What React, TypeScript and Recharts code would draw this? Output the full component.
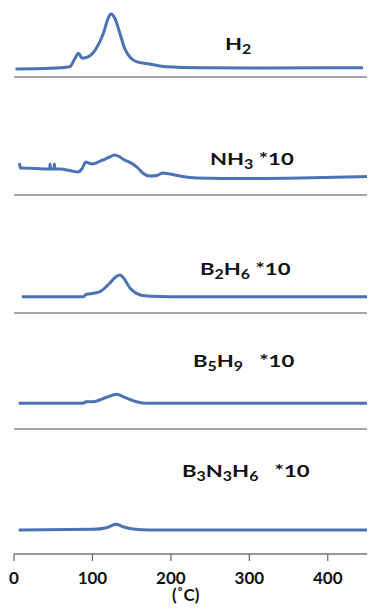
import { LineChart, Line, XAxis, YAxis } from "recharts";

// temperature (°C) vs. signal (a.u.)
const h2 = [
  { t: 2, v: 0.8 }, { t: 46, v: 0.87 }, { t: 71, v: 1.03 }, { t: 78, v: 1.9 },
  { t: 82, v: 2.37 }, { t: 87, v: 1.87 }, { t: 95, v: 2.03 }, { t: 105, v: 2.87 },
  { t: 114, v: 4.37 }, { t: 120, v: 5.87 }, { t: 123.5, v: 6.3 }, { t: 128.5, v: 5.87 },
  { t: 135, v: 4.37 }, { t: 141, v: 2.87 }, { t: 148, v: 1.97 }, { t: 156, v: 1.53 },
  { t: 173, v: 1.3 }, { t: 194, v: 1.03 }, { t: 237, v: 0.93 }, { t: 322, v: 0.9 },
  { t: 445, v: 0.93 },
];

const nh3 = [
  { t: 7, v: 3.2 }, { t: 8, v: 2.7 }, { t: 10, v: 2.7 }, { t: 45.5, v: 2.6 },
  { t: 46, v: 3.1 }, { t: 46.5, v: 2.6 }, { t: 51, v: 2.6 }, { t: 51.5, v: 3.1 },
  { t: 52, v: 2.6 }, { t: 59, v: 2.6 }, { t: 71, v: 2.45 }, { t: 81.5, v: 2.3 },
  { t: 86.5, v: 2.6 }, { t: 91.5, v: 3.3 }, { t: 95.5, v: 3.2 }, { t: 99.5, v: 3.1 },
  { t: 113, v: 3.5 }, { t: 122, v: 3.8 }, { t: 128.5, v: 4.0 }, { t: 135, v: 3.8 },
  { t: 141, v: 3.5 }, { t: 151.5, v: 3.1 }, { t: 158, v: 2.7 }, { t: 164, v: 2.2 },
  { t: 173, v: 1.9 }, { t: 182, v: 1.95 }, { t: 190, v: 2.2 }, { t: 199, v: 2.1 },
  { t: 208, v: 1.95 }, { t: 224, v: 1.75 }, { t: 233, v: 1.7 }, { t: 300, v: 1.65 },
  { t: 364, v: 1.7 }, { t: 450, v: 1.85 },
];

const b2h6 = [
  { t: 10, v: 1.63 }, { t: 88, v: 1.63 }, { t: 92.5, v: 1.87 }, { t: 101, v: 1.97 },
  { t: 109.5, v: 2.13 }, { t: 122, v: 2.97 }, { t: 130, v: 3.63 }, { t: 135, v: 3.8 },
  { t: 140, v: 3.47 }, { t: 148, v: 2.47 }, { t: 156, v: 1.97 }, { t: 169, v: 1.7 },
  { t: 200, v: 1.63 }, { t: 450, v: 1.63 },
];

const b5h9 = [
  { t: 6, v: 2.57 }, { t: 88, v: 2.57 }, { t: 92, v: 2.73 }, { t: 101, v: 2.73 },
  { t: 118, v: 3.17 }, { t: 131, v: 3.47 }, { t: 141, v: 3.17 }, { t: 156, v: 2.73 },
  { t: 169, v: 2.57 }, { t: 450, v: 2.57 },
];

const b3n3h6 = [
  { t: 6, v: 2.4 }, { t: 101, v: 2.47 }, { t: 118, v: 2.63 }, { t: 130, v: 2.97 },
  { t: 139, v: 2.73 }, { t: 152, v: 2.5 }, { t: 173, v: 2.4 }, { t: 450, v: 2.4 },
];

const xTicks = [0, 100, 200, 300, 400];

const blue = "#4a72b5";
const grey = "#8a8a8a";
const labelFont = "Lato, 'Open Sans', sans-serif";

function Panel({ data, line, last }: { data: { t: number; v: number }[]; line: number; last?: boolean }) {
  return (
    <div style={{ position: "absolute", left: 0, top: line - 70 }}>
      <LineChart width={369} height={last ? 120 : 71} data={data} margin={{ top: 0, right: 2, left: 14, bottom: 0 }}>
        <XAxis
          dataKey="t"
          type="number"
          domain={[0, 450]}
          ticks={last ? xTicks : []}
          tick={last ? { fontFamily: labelFont, fontWeight: 700, fontSize: 17, fill: "#111" } : false}
          tickLine={last ? { stroke: "#666", strokeWidth: 1.2 } : false}
          tickSize={7}
          tickMargin={11}
          height={last ? 50 : 1}
          axisLine={{ stroke: last ? "#777" : grey, strokeWidth: 1.3 }}
          interval={0}
        />
        <YAxis hide domain={[0, 7]} />
        <Line type="monotone" dataKey="v" stroke={blue} strokeWidth={3} dot={false} isAnimationActive={false} />
      </LineChart>
    </div>
  );
}

function Label({ left, top, children }: { left: number; top: number; children: React.ReactNode }) {
  return (
    <div
      style={{
        position: "absolute",
        left,
        top,
        fontFamily: labelFont,
        fontWeight: 700,
        fontSize: 17,
        lineHeight: 1,
        whiteSpace: "pre",
        color: "#111",
        transform: "scaleX(1.3)",
        transformOrigin: "left top",
      }}
    >
      {children}
    </div>
  );
}

const sub = (s: string) => (
  <span style={{ fontSize: "0.72em", position: "relative", top: "0.3em" }}>{s}</span>
);

export default function App() {
  return (
    <div style={{ position: "absolute", left: 0, top: 0, width: 369, height: 610, background: "#fff" }}>
      <Panel data={h2} line={77} />
      <Panel data={nh3} line={195} />
      <Panel data={b2h6} line={313} />
      <Panel data={b5h9} line={429} />
      <Panel data={b3n3h6} line={554} last />

      <Label left={225} top={35}>H{sub("2")}</Label>
      <Label left={210} top={150}>NH{sub("3")} *10</Label>
      <Label left={200} top={260}>B{sub("2")}H{sub("6")} *10</Label>
      <Label left={193} top={352}>B{sub("5")}H{sub("9")}   *10</Label>
      <Label left={182} top={462}>B{sub("3")}N{sub("3")}H{sub("6")}   *10</Label>

      <div
        style={{
          position: "absolute",
          left: 172,
          top: 586,
          fontFamily: labelFont,
          fontWeight: 700,
          fontSize: 17,
          lineHeight: 1,
          color: "#111",
        }}
      >
        (˚C)
      </div>
    </div>
  );
}
